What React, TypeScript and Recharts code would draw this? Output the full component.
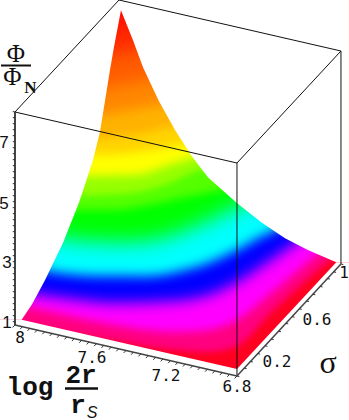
import React from "react";
import { ComposedChart, Area, Line, XAxis, YAxis } from "recharts";

const W = 349;
const H = 420;

// axis ranges of the 3D box
const LOGR_FRONT = 8;
const LOGR_BACK = 6.8;
const PHI_BASE = 0.9;
const PHI_TOP = 8;

// oblique view of the box, in chart-plane units
const view = { ox: 15, oy: 95, ux: 222, uy: -51, vx: 104, vy: 112, wy: 30 };
const project = (logr: number, sigma: number, phi: number) => {
  const u = (LOGR_FRONT - logr) / (LOGR_FRONT - LOGR_BACK);
  return {
    px: view.ox + view.ux * u + view.vx * sigma,
    py: view.oy + view.uy * u + view.vy * sigma + view.wy * (phi - PHI_BASE),
  };
};

// Surface contours: Phi level, shading colour, and (log r, sigma) along it
const levelPhi = [7.13, 6.17, 5.4, 4.73, 4.23, 3.7, 3.27, 3.03, 2.57, 1.93, 1.53, 1.33, 1.23, 1.17];
const levelColor = ["#ff2a00", "#ff5d00", "#ff8800", "#ffb200", "#ffd400", "#ffff00", "#95ff00", "#55ff00", "#00ff00", "#00ffff", "#0000ff", "#ff00ff", "#ff0080", "#ff0020"];
const levelLift = [12, 18, 15, 12, 8, 10, 12, 7, 10, 21, 12, 15, 8, 4];
const levelBlur = [10, 9, 8, 6, 5, 5, 5, 3, 4, 10, 6, 7, 4, 3];

const contourLogr = [
  [8.045, 7.968, 7.909, 7.801],
  [8.038, 7.975, 7.843, 7.744],
  [8.036, 7.968, 7.773, 7.687],
  [8.041, 7.965, 7.711, 7.612],
  [8.047, 7.971, 7.809, 7.672, 7.577],
  [8.068, 7.967, 7.783, 7.589, 7.506],
  [8.067, 7.966, 7.734, 7.628, 7.536, 7.474],
  [8.065, 7.959, 7.74, 7.603, 7.523, 7.469, 7.415],
  [8.079, 7.969, 7.804, 7.647, 7.538, 7.433, 7.356, 7.303],
  [8.076, 7.962, 7.798, 7.616, 7.448, 7.355, 7.28, 7.215, 7.165],
  [8.067, 7.961, 7.705, 7.482, 7.342, 7.268, 7.193, 7.139, 7.07, 7.019],
  [8.074, 7.963, 7.773, 7.53, 7.271, 7.148, 7.073, 7.018, 6.956, 6.914],
  [8.065, 7.964, 7.744, 7.48, 7.184, 7.045, 6.957, 6.918, 6.868, 6.84],
  [8.011, 7.695, 7.439, 7.134, 6.979, 6.874, 6.86, 6.816, 6.797],
];
const contourSigma = [
  [0.849, 0.905, 0.954, 1.04],
  [0.789, 0.849, 0.952, 1.035],
  [0.736, 0.789, 0.952, 1.03],
  [0.699, 0.754, 0.958, 1.04],
  [0.652, 0.708, 0.814, 0.937, 1.027],
  [0.679, 0.691, 0.788, 0.951, 1.045],
  [0.591, 0.602, 0.699, 0.829, 0.953, 1.084],
  [0.538, 0.542, 0.643, 0.785, 0.931, 0.969, 1.124],
  [0.506, 0.503, 0.565, 0.67, 0.774, 0.867, 0.941, 1.068],
  [0.346, 0.336, 0.362, 0.423, 0.557, 0.709, 0.863, 0.959, 1.111],
  [0.216, 0.22, 0.273, 0.357, 0.464, 0.554, 0.699, 0.844, 0.96, 1.14],
  [0.035, 0.05, 0.077, 0.125, 0.241, 0.341, 0.486, 0.685, 0.95, 1.144],
  [0.02, 0.023, 0.026, 0.037, 0.087, 0.157, 0.28, 0.527, 0.938, 1.11],
  [-0.076, -0.063, -0.037, -0.002, 0.039, 0.132, 0.424, 0.923, 1.072],
];

// Surface edges
const EDGE_LOGR_FRONT = 7.964;
const EDGE_SIGMA_BACK = 0.955;
const PHI_MIN = 1.13;
const frontEdgeSigma = [0, 0.1, 0.224, 0.397, 0.532, 0.56, 0.686, 0.753, 0.849, 0.8875, 0.955];
const frontEdgePhi = [1.13, 1.27, 1.61, 2.2, 2.87, 3.03, 3.89, 4.57, 6.27, 6.9, 7.88];
const backEdgeLogr = [7.899, 7.845, 7.76, 7.672, 7.58, 7.494, 7.336, 7.202, 7.077, 6.954, 6.8];
const backEdgePhi = [6.97, 6.15, 5.15, 4.3, 3.55, 2.98, 2.33, 1.87, 1.53, 1.32, 1.13];

// Axis ticks
const phiTicks = [1, 1.2, 1.4, 1.6, 1.8, 2, 2.2, 2.4, 2.6, 2.8, 3, 3.2, 3.4, 3.6, 3.8, 4, 4.2, 4.4, 4.6, 4.8, 5, 5.2, 5.4, 5.6, 5.8, 6, 6.2, 6.4, 6.6, 6.8, 7, 7.2, 7.4, 7.6, 7.8, 8];
const logrTicks = [8, 7.96, 7.92, 7.88, 7.84, 7.8, 7.76, 7.72, 7.68, 7.64, 7.6, 7.56, 7.52, 7.48, 7.44, 7.4, 7.36, 7.32, 7.28, 7.24, 7.2, 7.16, 7.12, 7.08, 7.04, 7, 6.96, 6.92, 6.88, 6.84, 6.8];
const sigmaTicks = [0, 0.07, 0.13, 0.2, 0.27, 0.33, 0.4, 0.47, 0.53, 0.6, 0.67, 0.73, 0.8, 0.87, 0.93, 1];

const boxEdges: [number, number, number, number, number, number][] = [
  [8, 0, PHI_TOP, 6.8, 0, PHI_TOP],
  [6.8, 0, PHI_TOP, 6.8, 1, PHI_TOP],
  [6.8, 1, PHI_TOP, 8, 1, PHI_TOP],
  [8, 1, PHI_TOP, 8, 0, PHI_TOP],
  [6.8, 0, PHI_BASE, 6.8, 0, PHI_TOP],
  [6.8, 1, PHI_BASE, 6.8, 1, PHI_TOP],
];
const axisEdges: [number, number, number, number, number, number][] = [
  [8, 0, PHI_BASE, 8, 0, PHI_TOP],
  [8, 0, PHI_BASE, 6.8, 0, PHI_BASE],
  [6.8, 0, PHI_BASE, 6.8, 1, PHI_BASE],
];

const seg = (e: number[]) => [project(e[0], e[1], e[2]), project(e[3], e[4], e[5])];

const contours = levelPhi.map((phi, k) =>
  contourLogr[k].map((l, i) => {
    const p = project(l, contourSigma[k][i], phi);
    return { px: p.px, py: p.py + levelLift[k] };
  })
);

const upperEdge = [
  ...frontEdgeSigma.map((s, i) => project(EDGE_LOGR_FRONT, s, frontEdgePhi[i])),
  ...backEdgeLogr.map((l, i) => project(l, EDGE_SIGMA_BACK, backEdgePhi[i])),
];
const lowerEdge = [
  project(EDGE_LOGR_FRONT, 0, PHI_MIN),
  project(LOGR_BACK, 0, PHI_MIN),
  project(LOGR_BACK, EDGE_SIGMA_BACK, PHI_MIN),
];
const withEnds = (pts: { px: number; py: number }[]) => [
  { px: 0, py: pts[0].py },
  ...pts,
  { px: W, py: pts[pts.length - 1].py },
];
const baseFill = [{ px: 0, py: H }, { px: W, py: H }];

const ticks = [
  ...phiTicks.map((p) => seg([8, 0, p, 8.012, 0, p])),
  ...logrTicks.map((l) => seg([l, 0, PHI_BASE, l, -0.022, PHI_BASE])),
  ...sigmaTicks.map((s) => seg([6.8, s, PHI_BASE, 6.787, s, PHI_BASE])),
];

const mono = "'DejaVu Sans Mono', monospace";
const sans = "'Liberation Sans', sans-serif";
const serif = "'Liberation Serif', serif";
const courier = "'Liberation Mono', monospace";

export default function App() {
  const css = levelBlur.map((b, k) => `.lvl${k}{filter:blur(${b}px)}`).join("");
  return (
    <div style={{ position: "absolute", left: 0, top: 0, width: W, height: H, background: "#fff" }}>
      <style>{css}</style>
      <ComposedChart width={W} height={H} margin={{ top: 0, right: 0, bottom: 0, left: 0 }}>
        <XAxis type="number" dataKey="px" domain={[0, W]} hide />
        <YAxis type="number" dataKey="py" domain={[0, H]} hide />
        <Area data={baseFill} dataKey="py" fill="#ff0c08" fillOpacity={1} stroke="none" activeDot={false} isAnimationActive={false} />
        {contours.map((c, k) => (
          <Area
            key={k}
            data={c}
            dataKey="py"
            type="monotone"
            className={`lvl${k}`}
            fill={levelColor[k]}
            fillOpacity={1}
            stroke="none"
            activeDot={false}
            isAnimationActive={false}
          />
        ))}
        <Area data={withEnds(lowerEdge)} dataKey="py" fill="#fff" fillOpacity={1} stroke="none" activeDot={false} isAnimationActive={false} />
        <Area data={withEnds(upperEdge)} dataKey="py" baseValue={H} fill="#fff" fillOpacity={1} stroke="none" activeDot={false} isAnimationActive={false} />
        {boxEdges.map((e, i) => (
          <Line key={`b${i}`} data={seg(e)} dataKey="py" stroke="#111" strokeWidth={1} dot={false} activeDot={false} isAnimationActive={false} />
        ))}
        {axisEdges.map((e, i) => (
          <Line key={`a${i}`} data={seg(e)} dataKey="py" stroke="#444" strokeWidth={i === 0 ? 2 : 1.5} dot={false} activeDot={false} isAnimationActive={false} />
        ))}
        {ticks.map((t, i) => (
          <Line key={`t${i}`} data={t} dataKey="py" stroke="#333" strokeWidth={1} dot={false} activeDot={false} isAnimationActive={false} />
        ))}
      </ComposedChart>
      <svg width={W} height={H} style={{ position: "absolute", left: 0, top: 0, pointerEvents: "none" }}>
        <text x={4} y={148} fontFamily={sans} fontSize={17} fill="#111" textAnchor="middle">7</text>
        <text x={4} y={209} fontFamily={sans} fontSize={17} fill="#111" textAnchor="middle">5</text>
        <text x={7} y={268} fontFamily={sans} fontSize={17} fill="#111" textAnchor="middle">3</text>
        <text x={7} y={328} fontFamily={sans} fontSize={17} fill="#111" textAnchor="middle">1</text>

        <text x={20} y={343} fontFamily={mono} fontSize={16} fill="#111" textAnchor="middle">8</text>
        <text x={92} y={363} fontFamily={mono} fontSize={16} fill="#111" textAnchor="middle">7.6</text>
        <text x={166} y={381} fontFamily={mono} fontSize={16} fill="#111" textAnchor="middle">7.2</text>
        <text x={237} y={392} fontFamily={mono} fontSize={16} fill="#111" textAnchor="middle">6.8</text>
        <text x={277} y={367} fontFamily={mono} fontSize={16} fill="#111" textAnchor="middle">0.2</text>
        <text x={317} y={325} fontFamily={mono} fontSize={16} fill="#111" textAnchor="middle">0.6</text>
        <text x={344} y={278} fontFamily={mono} fontSize={16} fill="#111" textAnchor="middle">1</text>

        <text x={328} y={373} fontFamily={serif} fontSize={32} fill="#111" textAnchor="middle">σ</text>

        <text x={16} y={62} fontFamily={serif} fontSize={25} fill="#111" textAnchor="middle">Φ</text>
        <line x1={1} x2={31} y1={65.5} y2={65.5} stroke="#111" strokeWidth={2} />
        <text x={12.5} y={85} fontFamily={serif} fontSize={25} fill="#111" textAnchor="middle">Φ</text>
        <text x={30.5} y={93} fontFamily={serif} fontSize={17} fontWeight={700} fill="#111" textAnchor="middle">N</text>

        <text x={30} y={395} fontFamily={courier} fontSize={26} fontWeight={700} fill="#111" textAnchor="middle">log</text>
        <text x={81} y={383} fontFamily={courier} fontSize={26} fontWeight={700} fill="#111" textAnchor="middle">2r</text>
        <line x1={65} x2={98} y1={388.5} y2={388.5} stroke="#111" strokeWidth={2.5} />
        <text x={78} y={413} fontFamily={courier} fontSize={26} fontWeight={700} fill="#111" textAnchor="middle">r</text>
        <text x={92} y={418} fontFamily={sans} fontSize={16} fontStyle="italic" fill="#111" textAnchor="middle">S</text>
      </svg>
    </div>
  );
}
